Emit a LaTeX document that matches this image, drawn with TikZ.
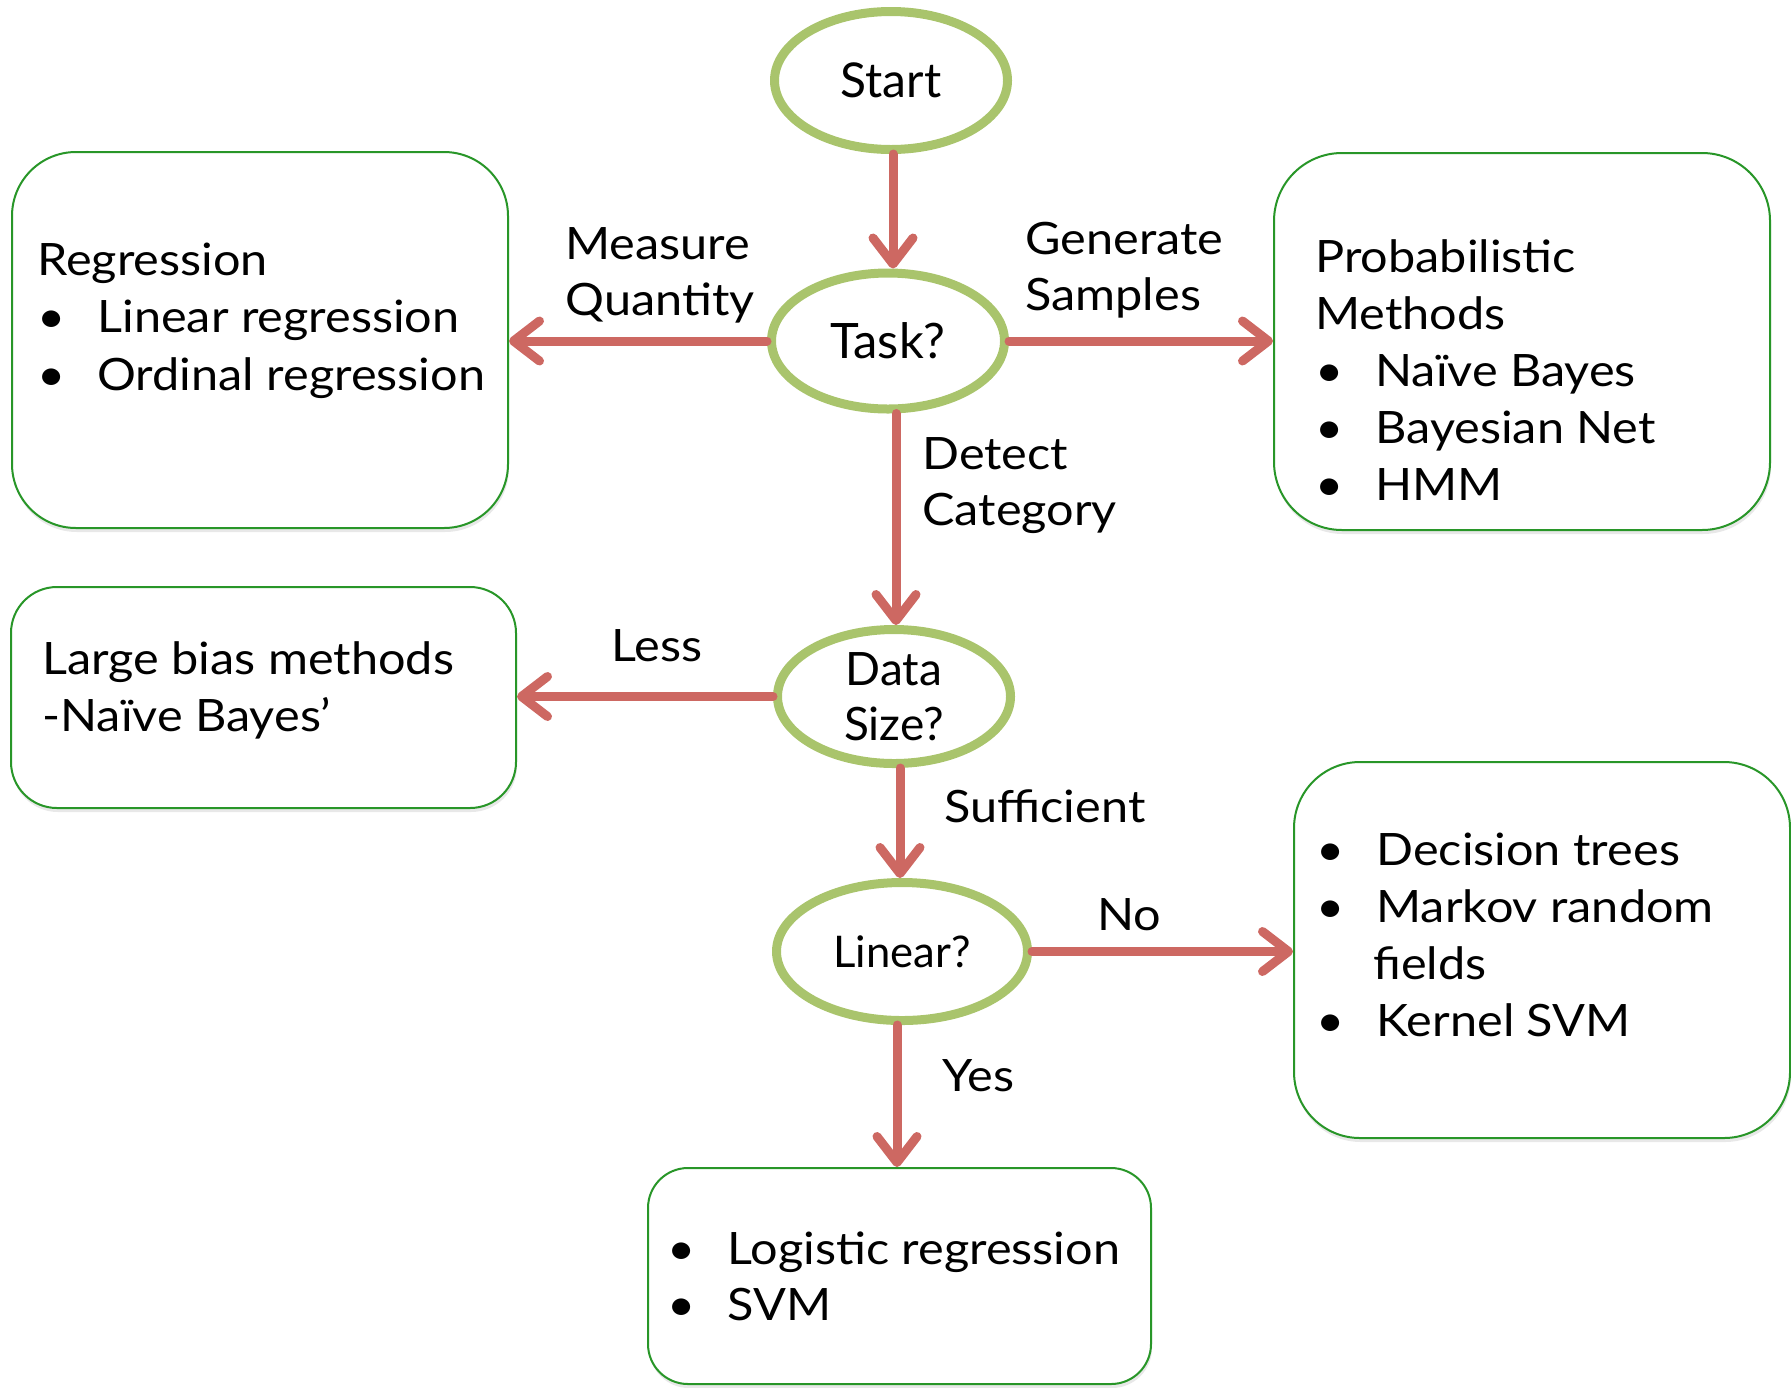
\documentclass[tikz,border=0pt]{standalone}
\usepackage{fontspec}
\setmainfont{Lato}
\newfontfamily\widefont[FakeStretch=1.09]{Lato}
\usetikzlibrary{shapes.geometric,arrows.meta,shadows}
\definecolor{arrowred}{RGB}{205,104,98}
\definecolor{ellgreen}{RGB}{169,196,108}
\definecolor{boxgreen}{RGB}{40,150,40}
\newcommand\bulitem[1]{\makebox[30pt][l]{\textbullet}#1}
\begin{document}
\begin{tikzpicture}[x=0.5pt,y=-0.5pt,
  decision/.style={ellipse, draw=ellgreen, line width=4.5pt, inner sep=0pt, align=center,
    font=\fontsize{23}{27.5}\selectfont},
  outbox/.style={rectangle, draw=boxgreen, line width=1pt, fill=white,
    drop shadow={shadow xshift=0.5pt, shadow yshift=-2pt, opacity=0.18}},
  txt/.style={anchor=base west, inner sep=0pt, font=\widefont\fontsize{22.3}{27}\selectfont},
  flow/.style={draw=arrowred, line width=4.5pt, line cap=round,
    -{Straight Barb[round,length=13pt,width=20pt]}},
 ]
\useasboundingbox (0,0) rectangle (1791,1387);

% output boxes
\node[outbox, rounded corners=32pt, minimum width=248pt, minimum height=188pt] (reg) at (260,340) {};
\node[outbox, rounded corners=34pt, minimum width=248pt, minimum height=188.5pt] (prob) at (1522,341.5) {};
\node[outbox, rounded corners=23pt, minimum width=252.5pt, minimum height=110.5pt] (bias) at (263.5,697.5) {};
\node[outbox, rounded corners=33pt, minimum width=248pt, minimum height=188pt] (mrf) at (1542,950) {};
\node[outbox, rounded corners=20pt, minimum width=251.5pt, minimum height=108pt] (bot) at (899.5,1276) {};

% decision ellipses
\node[decision, minimum width=116.5pt, minimum height=69pt, font=\fontsize{24}{29}\selectfont] (start) at (891,80.5) {Start};
\node[decision, minimum width=116.5pt, minimum height=68pt, font=\fontsize{24.4}{29}\selectfont] (task) at (888,341) {Task?};
\node[decision, minimum width=116.5pt, minimum height=67pt] (data) at (894,696.5) {Data\\Size?};
\node[decision, minimum width=125.5pt, minimum height=69pt, font=\fontsize{21.8}{25}\selectfont] (linear) at (902,951.5) {Linear?};

% connectors
\draw[flow] (start.south -| 893,0) -- (893,0 |- task.north);
\draw[flow] (task.west) -- (task.west -| reg.east);
\draw[flow] (task.east) -- (task.east -| prob.west);
\draw[flow] (task.south -| 896,0) -- (896,0 |- data.north);
\draw[flow] (data.west) -- (data.west -| bias.east);
\draw[flow] (data.south -| 900,0) -- (900,0 |- linear.north);
\draw[flow] (linear.east) -- (linear.east -| mrf.west);
\draw[flow] (linear.south -| 897,0) -- (897,0 |- bot.north);

% connector labels
\node[txt] (lmeasure) at (565,259) {Measure};
\node[txt] (lquantity) at (565,315) {Quantity};
\node[txt] (lgenerate) at (1025,254) {Generate};
\node[txt] (lsamples) at (1025,310) {Samples};
\node[txt] (ldetect) at (922,469) {Detect};
\node[txt] (lcategory) at (922,525) {Category};
\node[txt] (lless) at (611,661) {Less};
\node[txt] (lsuff) at (944,822) {Sufficient};
\node[txt] (lno) at (1097,930) {No};
\node[txt] (lyes) at (942,1091) {Yes};

% box texts
\node[txt] (reg1) at (37,275) {Regression};
\node[txt] (reg2) at (37,332) {\bulitem{Linear regression}};
\node[txt] (reg3) at (37,390) {\bulitem{Ordinal regression}};

\node[txt] (prob1) at (1315,272) {Probabilistic};
\node[txt] (prob2) at (1315,329) {Methods};
\node[txt] (prob3) at (1315,386) {\bulitem{Naïve Bayes}};
\node[txt] (prob4) at (1315,443) {\bulitem{Bayesian Net}};
\node[txt] (prob5) at (1315,500) {\bulitem{HMM}};

\node[txt] (bias1) at (42,674) {Large bias methods};
\node[txt] (bias2) at (42,731) {-Naïve Bayes’};

\node[txt] (mrf1) at (1316,865) {\bulitem{Decision trees}};
\node[txt] (mrf2) at (1316,922) {\bulitem{Markov random}};
\node[txt] (mrf3) at (1373,979) {fields};
\node[txt] (mrf4) at (1316,1036) {\bulitem{Kernel SVM}};

\node[txt] (bot1) at (667,1264) {\bulitem{Logistic regression}};
\node[txt] (bot2) at (667,1320) {\bulitem{SVM}};
\end{tikzpicture}
\end{document}
